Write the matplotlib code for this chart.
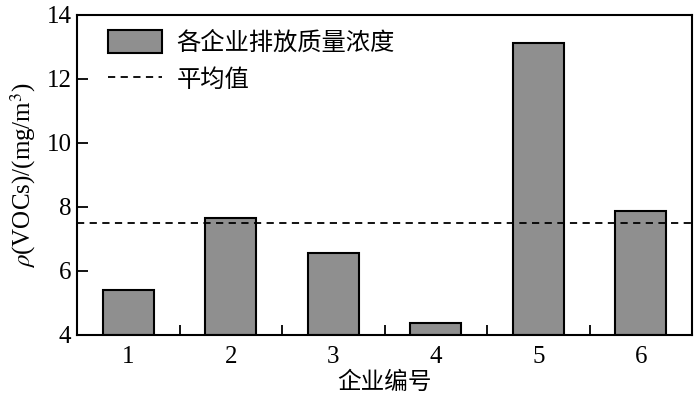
import matplotlib
matplotlib.use("Agg")
import matplotlib.pyplot as plt

companies = [1, 2, 3, 4, 5, 6]
concentration = [5.39, 7.65, 6.56, 4.37, 13.13, 7.88]
mean_value = 7.49
bar_label = "各企业排放质量浓度"
mean_label = "平均值"
xlabel = "企业编号"
ylabel = r"$\rho$(VOCs)/(mg/m$^3$)"
yticks = [4, 6, 8, 10, 12, 14]

plt.rcParams['font.family'] = ['Liberation Serif', 'Noto Sans CJK SC']
plt.rcParams['mathtext.fontset'] = 'stix'

fig = plt.figure(figsize=(7.0, 3.99), dpi=100)
ax = fig.add_axes([77/700, 1 - 334.5/399, (692-77)/700, (334.5-15)/399])

bars = ax.bar(companies, [v - 4 for v in concentration], bottom=4, width=0.5,
              color='#8f8f8f', edgecolor='black', linewidth=1.5, label=bar_label)
line = ax.axhline(mean_value, color='black', linestyle=(0, (4, 3)), linewidth=1.3, label=mean_label)

ax.set_xlim(0.5, 6.5)
ax.set_ylim(4, 14)
ax.set_yticks(yticks)
ax.set_xticks(companies)
ax.set_xticks([1.5, 2.5, 3.5, 4.5, 5.5], minor=True)
ax.tick_params(axis='x', which='major', length=0, labelsize=18, pad=8)
ax.tick_params(axis='x', which='minor', direction='in', length=7, width=1.3)
ax.tick_params(axis='y', which='major', direction='in', length=8, width=1.3, labelsize=18, pad=4)
for s in ax.spines.values():
    s.set_linewidth(1.5)

ax.set_xlabel(xlabel, fontsize=17, labelpad=3)
ax.set_ylabel(ylabel, fontsize=18, labelpad=6)

ax.legend([bars, line], [bar_label, mean_label], loc='upper left', frameon=False,
          fontsize=17.5, handlelength=2.2, handleheight=1.1,
          bbox_to_anchor=(0.035, 0.985), borderaxespad=0,
          handletextpad=0.6, labelspacing=0.5)

fig.savefig("out.png", dpi=100)
